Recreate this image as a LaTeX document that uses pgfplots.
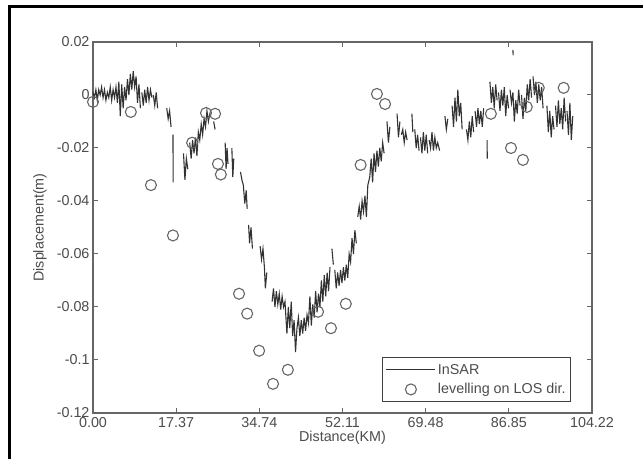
\documentclass[border=0pt]{standalone}
\usepackage{fontspec}
\setmainfont{Liberation Sans}
\usepackage{pgfplots}
\pgfplotsset{compat=1.18}
\definecolor{txt}{gray}{0.3}
\definecolor{axc}{gray}{0.4}
\definecolor{insar}{gray}{0.2}
\definecolor{lev}{gray}{0.4}
\newcommand{\fs}{\fontsize{14.4}{16}\selectfont}
\pgfplotsset{
  linelegend/.style={legend image code/.code={\draw[##1] (0bp,0bp) -- (49bp,0bp);}},
  marklegend/.style={legend image code/.code={\draw[mark repeat=2,mark phase=2,##1] plot coordinates {(0bp,0bp) (24.5bp,0bp) (49bp,0bp)};}},
}
\begin{document}
\begin{tikzpicture}
\useasboundingbox (-93bp,-46bp) rectangle (550bp,413bp);
\fill[white] (-93bp,-46bp) rectangle (550bp,413bp);
\begin{axis}[
  at={(0bp,0bp)}, anchor=south west,
  scale only axis, width=499bp, height=371bp,
  xmin=0, xmax=104.22, ymin=-0.12, ymax=0.02,
  xtick={0,17.37,34.74,52.11,69.48,86.85,104.22},
  xticklabels={0.00,17.37,34.74,52.11,69.48,86.85,104.22},
  ytick={-0.12,-0.1,-0.08,-0.06,-0.04,-0.02,0,0.02},
  yticklabels={-0.12,-0.1,-0.08,-0.06,-0.04,-0.02,0,0.02},
  tick align=inside, major tick length=5bp,
  axis line style={draw=axc, line width=1.2bp},
  tick style={draw=axc, line width=1bp},
  ticklabel style={font=\fs, text=txt},
  xticklabel style={yshift=-1bp},
  xlabel={Distance(KM)}, ylabel={Displacement(m)},
  label style={font=\fs, text=txt},
  xlabel style={at={(axis description cs:0.5,-0.0674)}, anchor=center},
  ylabel style={at={(axis description cs:-0.1062,0.5)}, anchor=center},
  unbounded coords=jump,
  clip=false,
  legend style={at={(axis description cs:0.958,0.030)}, anchor=south east,
    draw=black!75, line width=1bp, fill=white, font=\fs, text=txt,
    inner xsep=3bp, inner ysep=4bp, row sep=4bp,
    cells={anchor=west}},
]
\addplot[insar, line width=1.1bp, linelegend]
table[row sep=\\] {
x y\\
0.0 0.001\\ 0.3 -0.001\\ 0.6 0.002\\ 0.9 -0.002\\ 1.2 0.002\\ 1.5 0.000\\
1.8 0.003\\ 2.1 -0.001\\ 2.4 0.002\\ 2.7 -0.002\\ 3.0 0.001\\ 3.3 -0.001\\
3.6 0.003\\ 3.9 -0.002\\ 4.2 0.002\\ 4.5 -0.001\\ 4.8 0.003\\ 5.1 -0.003\\
5.4 0.005\\ 5.7 -0.008\\ 6.0 0.004\\ 6.3 -0.005\\ 6.6 0.003\\ 6.9 -0.002\\
7.2 0.006\\ 7.5 0.000\\ 7.8 0.008\\ 8.1 0.002\\ 8.4 0.009\\ 8.7 0.003\\
9.0 0.007\\ 9.3 -0.003\\ 9.6 0.004\\ 9.9 -0.005\\
nan nan\\
10.2 0.001\\ 10.5 -0.004\\
10.8 0.002\\ 11.1 -0.003\\ 11.4 0.003\\ 11.7 -0.002\\ 12.0 0.002\\ 12.3 -0.001\\
nan nan\\
12.6 0.000\\ 12.9 -0.004\\ 13.2 0.001\\ 13.5 -0.005\\
nan nan\\
15.4 -0.005\\ 15.7 -0.009\\ 16.0 -0.006\\ 16.3 -0.012\\
nan nan\\
16.7 -0.015\\ 16.75 -0.033\\
nan nan\\
18.9 -0.022\\ 19.2 -0.032\\ 19.5 -0.024\\ 19.8 -0.028\\
nan nan\\
20.2 -0.018\\ 20.5 -0.024\\
20.8 -0.017\\ 21.1 -0.022\\ 21.4 -0.016\\ 21.7 -0.023\\ 22.0 -0.014\\ 22.3 -0.017\\
22.6 -0.011\\ 22.9 -0.015\\ 23.2 -0.009\\ 23.5 -0.012\\ 23.8 -0.006\\ 24.1 -0.010\\
24.4 -0.007\\
nan nan\\
25.2 -0.010\\ 25.5 -0.013\\
nan nan\\
27.6 -0.018\\ 27.8 -0.028\\ 28.0 -0.020\\ 28.2 -0.026\\
nan nan\\
29.0 -0.020\\ 29.2 -0.031\\ 29.4 -0.024\\
nan nan\\
30.8 -0.029\\ 31.1 -0.032\\ 31.4 -0.034\\ 31.7 -0.041\\ 32.0 -0.036\\ 32.2 -0.043\\
nan nan\\
32.5 -0.049\\ 32.7 -0.056\\ 33.0 -0.050\\ 33.3 -0.058\\
nan nan\\
34.9 -0.057\\ 35.2 -0.062\\ 35.5 -0.058\\ 35.8 -0.065\\ 36.0 -0.073\\ 36.3 -0.067\\
nan nan\\
37.4 -0.078\\ 37.7 -0.073\\ 38.0 -0.080\\ 38.3 -0.074\\ 38.6 -0.079\\ 38.9 -0.075\\
39.2 -0.081\\ 39.5 -0.076\\ 39.8 -0.080\\ 40.1 -0.078\\ 40.5 -0.090\\ 40.8 -0.080\\
41.1 -0.088\\ 41.4 -0.078\\ 41.7 -0.091\\ 42.0 -0.085\\ 42.3 -0.097\\ 42.6 -0.088\\
42.9 -0.084\\ 43.2 -0.091\\ 43.5 -0.085\\ 43.8 -0.090\\ 44.1 -0.084\\ 44.4 -0.089\\
44.7 -0.083\\ 45.0 -0.086\\ 45.3 -0.076\\ 45.6 -0.087\\ 45.9 -0.079\\ 46.2 -0.084\\
46.5 -0.074\\ 46.8 -0.082\\ 47.1 -0.075\\ 47.4 -0.080\\ 47.7 -0.070\\ 48.0 -0.078\\
48.3 -0.068\\ 48.6 -0.076\\ 48.9 -0.067\\ 49.2 -0.074\\ 49.5 -0.065\\
nan nan\\
49.9 -0.058\\ 50.2 -0.064\\
nan nan\\
50.5 -0.066\\ 50.8 -0.073\\ 51.1 -0.067\\ 51.4 -0.072\\ 51.7 -0.066\\
52.0 -0.071\\ 52.3 -0.065\\ 52.6 -0.070\\ 52.9 -0.064\\ 53.2 -0.069\\ 53.5 -0.060\\
53.8 -0.063\\ 54.1 -0.054\\ 54.4 -0.060\\ 54.7 -0.051\\ 55.0 -0.056\\
nan nan\\
55.3 -0.046\\
55.6 -0.042\\ 55.9 -0.047\\ 56.2 -0.040\\ 56.5 -0.044\\ 56.8 -0.038\\ 57.1 -0.046\\
57.4 -0.034\\ 57.8 -0.031\\ 58.1 -0.024\\ 58.4 -0.033\\ 58.7 -0.022\\ 59.0 -0.029\\
59.3 -0.021\\ 59.6 -0.027\\ 59.9 -0.020\\ 60.2 -0.025\\ 60.5 -0.018\\ 60.8 -0.022\\
nan nan\\
61.4 -0.010\\ 61.7 -0.018\\ 62.0 -0.012\\
nan nan\\
63.5 -0.007\\ 63.8 -0.016\\ 64.1 -0.010\\
nan nan\\
64.4 -0.015\\ 64.7 -0.013\\ 65.0 -0.018\\
65.3 -0.014\\ 65.6 -0.017\\
nan nan\\
66.6 -0.007\\ 66.8 -0.014\\
nan nan\\
67.2 -0.013\\ 67.5 -0.020\\ 67.8 -0.015\\ 68.1 -0.021\\
nan nan\\
68.4 -0.016\\ 68.7 -0.022\\
69.0 -0.014\\ 69.3 -0.021\\ 69.6 -0.015\\ 69.9 -0.022\\
nan nan\\
70.2 -0.017\\ 70.5 -0.020\\
70.8 -0.014\\ 71.1 -0.021\\ 71.4 -0.016\\ 71.7 -0.020\\ 72.0 -0.018\\ 72.4 -0.021\\
nan nan\\
73.5 -0.008\\ 73.8 -0.013\\ 74.1 -0.009\\
nan nan\\
75.0 -0.004\\ 75.3 -0.012\\ 75.6 -0.001\\ 75.9 -0.010\\ 76.2 0.002\\ 76.5 -0.008\\
76.8 -0.003\\ 77.1 -0.013\\
nan nan\\
78.0 -0.013\\ 78.3 -0.017\\ 78.6 -0.010\\ 78.9 -0.016\\ 79.2 -0.008\\ 79.5 -0.014\\
nan nan\\
79.8 -0.006\\ 80.1 -0.012\\ 80.4 -0.005\\ 80.7 -0.011\\ 81.0 -0.006\\ 81.3 -0.012\\
81.6 -0.005\\
nan nan\\
82.3 -0.017\\ 82.35 -0.024\\
nan nan\\
82.9 0.005\\ 83.2 -0.003\\ 83.5 0.003\\ 83.8 -0.005\\ 84.1 0.004\\ 84.4 -0.002\\
nan nan\\
84.7 0.001\\ 85.0 -0.006\\ 85.3 0.002\\ 85.6 -0.004\\ 85.9 0.003\\ 86.2 -0.008\\
86.5 0.000\\ 86.8 -0.005\\
nan nan\\
87.1 0.002\\ 87.4 -0.003\\ 87.7 0.001\\ 88.0 -0.010\\
88.3 -0.002\\ 88.6 -0.007\\ 88.9 0.002\\ 89.2 -0.004\\
nan nan\\
89.5 0.000\\ 89.8 -0.009\\
90.1 -0.001\\ 90.4 -0.006\\ 90.7 0.004\\ 91.0 -0.002\\ 91.3 0.006\\ 91.6 -0.001\\
nan nan\\
91.9 0.007\\ 92.2 0.000\\ 92.5 0.005\\ 92.8 -0.003\\ 93.1 0.004\\ 93.4 -0.002\\
93.7 0.003\\ 94.0 -0.005\\
nan nan\\
94.8 -0.004\\ 95.1 -0.014\\ 95.4 -0.006\\ 95.7 -0.016\\ 96.0 -0.008\\ 96.3 -0.013\\
nan nan\\
96.6 -0.004\\ 96.9 -0.012\\ 97.2 -0.002\\ 97.5 -0.011\\ 97.8 -0.005\\ 98.1 -0.013\\
98.4 -0.001\\ 98.7 -0.010\\
nan nan\\
99.0 -0.006\\ 99.3 -0.015\\ 99.6 -0.003\\ 99.9 -0.017\\
100.2 -0.008\\
nan nan\\
87.7 0.017\\ 87.75 0.015\\
};
\addlegendentry{InSAR}
\addplot[only marks, mark=o, mark size=5.5bp, lev, mark options={line width=1.1bp}, marklegend]
table[row sep=\\] {
x y\\
0 -0.0026\\ 7.9 -0.0064\\ 12.1 -0.034\\ 16.7 -0.053\\ 20.7 -0.018\\
23.6 -0.0068\\ 25.5 -0.0071\\ 26.1 -0.026\\ 26.7 -0.030\\ 30.5 -0.075\\
32.2 -0.0825\\ 34.7 -0.0965\\ 37.6 -0.109\\ 40.7 -0.1037\\ 47.0 -0.0818\\
49.7 -0.088\\ 52.8 -0.0788\\ 55.9 -0.0264\\ 59.3 0.0004\\ 61.0 -0.0034\\
83.1 -0.0071\\ 87.3 -0.020\\ 89.8 -0.0245\\ 90.6 -0.0045\\ 93.1 0.0027\\
98.3 0.0027\\
};
\addlegendentry{levelling on LOS dir.}
\end{axis}
\draw[line width=3bp, black] (-83bp,-60bp) -- (-83bp,406.5bp) -- (600bp,406.5bp);
\end{tikzpicture}
\end{document}
